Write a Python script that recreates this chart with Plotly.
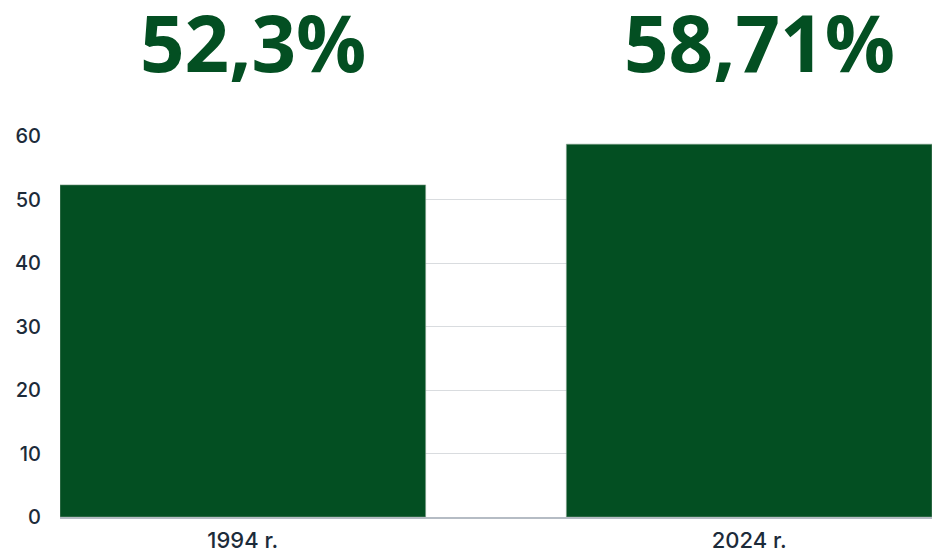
import plotly.graph_objects as go

categories = ["1994 r.", "2024 r."]
values = [52.3, 58.71]
value_labels = ["52,3%", "58,71%"]
y_ticks = [0, 10, 20, 30, 40, 50, 60]

GREEN = "#034f22"
x_pos = list(range(len(categories)))

fig = go.Figure()
fig.add_trace(go.Bar(
    x=x_pos, y=values, width=0.722,
    marker=dict(color=GREEN, line=dict(color="#7f9f8a", width=0.6)),
    hoverinfo="skip",
))

for xp, lab in zip(x_pos, value_labels):
    fig.add_annotation(
        x=xp + 0.02, xref="x", y=1.0, yref="paper", yshift=94,
        text=lab, showarrow=False, xanchor="center", yanchor="middle",
        font=dict(family="Open Sans", size=78, color=GREEN, weight=700),
    )

fig.update_layout(
    width=932, height=549,
    margin=dict(l=60, r=0, t=136, b=32),
    paper_bgcolor="white", plot_bgcolor="white",
    showlegend=False,
    xaxis=dict(
        range=[-0.361, 1.361], tickmode="array", tickvals=x_pos, ticktext=categories,
        showgrid=False, zeroline=False, showline=True, linecolor="#b5bcc4", linewidth=1.5,
        tickfont=dict(family="Inter", size=22, color="#1c2b3a", weight=500), ticks="",
        automargin=False, ticklabelstandoff=3,
    ),
    yaxis=dict(
        range=[0, 60], tickvals=y_ticks, showgrid=True, gridcolor="#d9dcdf", gridwidth=1,
        zeroline=False, showline=False, ticks="", ticklabelstandoff=18,
        tickfont=dict(family="Inter", size=20, color="#1c2b3a", weight=500),
        automargin=False,
    ),
)

fig.write_html(
    "out.html",
    config={"displayModeBar": False},
    post_script="document.body.style.margin='0';document.body.style.overflow='hidden';",
)
